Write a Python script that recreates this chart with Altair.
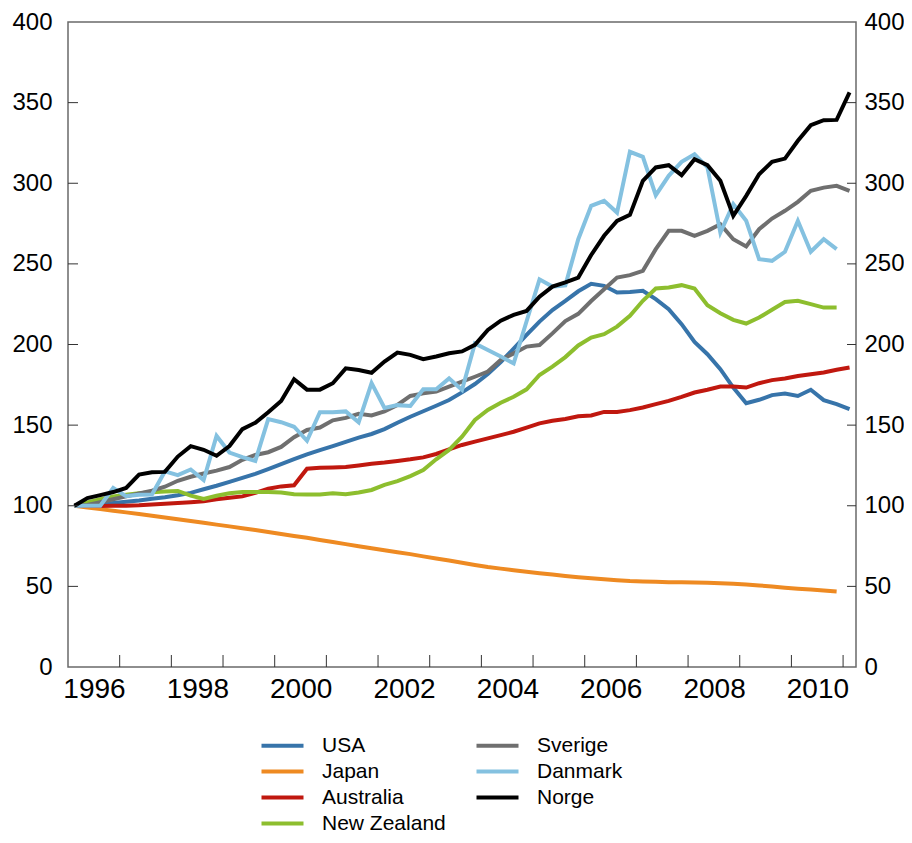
import altair as alt
import pandas as pd

# Quarterly index, 1996 Q1 = 100
usa = [100, 100.3, 101, 101.7, 102.5, 103.3, 104.3, 105.3, 106.5, 108, 110.2, 112.4, 114.8, 117.3, 119.8,
       122.7, 125.8, 128.9, 131.8, 134.5, 137, 139.6, 142.3, 144.5, 147.5, 151.5, 155.2, 158.6, 162, 165.6,
       170.3, 175.5, 181.7, 189.1, 197.4, 205.9, 214.2, 221.4, 227, 233, 237.6, 236.4, 232.2, 232.6, 233.3,
       228.1, 221.9, 212.6, 201.6, 194, 184.7, 173.3, 163.6, 165.7, 168.6, 169.6, 168.1, 171.9, 165.5, 163,
       159.9]
japan = [100, 98.9, 97.9, 96.9, 95.9, 94.9, 93.8, 92.7, 91.6, 90.5, 89.4, 88.3, 87.2, 86.1, 84.9, 83.7,
         82.5, 81.3, 80.1, 78.8, 77.5, 76.2, 74.9, 73.7, 72.4, 71.2, 70, 68.6, 67.3, 66, 64.6, 63.3, 62, 61,
         60, 59.1, 58.2, 57.3, 56.5, 55.7, 55, 54.4, 53.8, 53.3, 53, 52.8, 52.6, 52.5, 52.4, 52.2, 51.9, 51.6,
         51.2, 50.6, 49.9, 49.2, 48.6, 48, 47.4, 46.8]
australia = [100, 100, 99.9, 100, 100, 100.3, 100.8, 101.3, 101.7, 102.2, 102.8, 104, 105, 105.8, 108,
             110.5, 112, 112.7, 123, 123.5, 123.7, 124, 125, 126, 126.8, 127.8, 128.8, 130, 132.1, 135,
             137.7, 139.8, 141.8, 143.8, 145.9, 148.5, 151.1, 152.7, 153.8, 155.5, 156, 158.2, 158.2, 159.3,
             160.9, 163, 165, 167.5, 170.2, 171.9, 173.9, 173.9, 173.3, 176, 177.9, 178.9, 180.5, 181.6,
             182.6, 184.3, 185.7]
new_zealand = [100, 102, 104, 105.8, 106.8, 107.8, 108.3, 108.8, 109.2, 106.3, 104.2, 106.2, 107.8, 108.5,
               108.6, 108.6, 108.2, 107.2, 107, 107, 107.7, 107.2, 108.2, 109.8, 112.9, 115.3, 118.4, 122.2,
               128.8, 134.6, 142.8, 153.2, 159.4, 163.9, 167.6, 172.2, 181.1, 186.3, 192.2, 199.4, 204.3,
               206.4, 211.1, 217.8, 227.1, 234.7, 235.3, 236.8, 234.7, 224.4, 219.4, 215.3, 213, 216.7,
               221.5, 226.4, 227.1, 225, 222.9, 222.9]
sverige = [100, 100.5, 102.2, 104, 105.8, 107.6, 109.3, 111.8, 115.5, 118, 120, 121.8, 124, 128.5, 131.5,
           133.2, 136.5, 142.5, 147, 148.5, 153, 154.5, 157, 156, 158.5, 162.5, 168.1, 169.7, 170.8, 173.8,
           177, 180, 183.2, 190.4, 194.5, 198.7, 199.7, 206.9, 214.5, 219, 227, 234.3, 241.5, 243, 245.7,
           259.1, 270.5, 270.5, 267.4, 270.5, 274.6, 265.3, 260.8, 271.5, 278.1, 282.9, 288.5, 295.3, 297.3,
           298.4, 295.3]
danmark = [100, 100, 100, 111, 106, 106.8, 107, 121.3, 119, 122.5, 116, 143.3, 133, 130.2, 127.8, 153.7,
           151.8, 149, 140.3, 158, 158, 158.5, 151.8, 176, 160.6, 162.4, 161.9, 172.2, 172.2, 179, 171.8,
           200.7, 196.6, 192.5, 188.3, 214.4, 240.4, 235.9, 236.7, 265.3, 286, 289.1, 281.8, 319.5, 316.4,
           292.6, 304.6, 313.3, 318, 309.8, 269.4, 287, 276.7, 252.9, 251.9, 257.5, 276.7, 257.5, 265.3, 259.1]
norge = [100, 104.8, 106.6, 108.5, 111, 119.3, 120.8, 121, 130.5, 137, 134.7, 131, 137, 147.5, 151.5, 158,
         165, 178.5, 172, 172, 176, 185.2, 184.2, 182.5, 189.4, 195, 193.6, 190.9, 192.6, 194.6, 195.7,
         199.8, 209, 214.8, 218.4, 220.8, 229.7, 235.9, 238.5, 241.5, 255.5, 267.4, 276.7, 280.4, 301.5,
         309.8, 311.2, 305, 314.9, 311.2, 301.5, 279.8, 292.2, 305.6, 313.3, 315.3, 326.3, 336, 339.1,
         339.3, 356.3]

countries = ["USA", "Japan", "Australia", "New Zealand", "Sverige", "Danmark", "Norge"]
series = [usa, japan, australia, new_zealand, sverige, danmark, norge]
colors = ["#3774aa", "#ee8a22", "#c0180f", "#8dbe2e", "#6f6f6f", "#84c1e0", "#000000"]

y_ticks = list(range(0, 401, 50))
x_label_years = list(range(1996, 2011, 2))
x_tick_years = list(range(1997, 2012))

rows = []
for name, vals in zip(countries, series):
    for i, v in enumerate(vals):
        rows.append({"country": name, "t": 1996 + (i + 0.5) / 4, "value": v})
df = pd.DataFrame(rows)

FONT = "Liberation Sans"
W, H = 788, 645
yscale = alt.Scale(domain=[0, 400], nice=False, zero=True)

lines = alt.Chart(df).mark_line(strokeWidth=4).encode(
    x=alt.X("t:Q", scale=alt.Scale(domain=[1996, 2011.25], nice=False, zero=False),
            axis=alt.Axis(values=x_label_years, format="d", labelOffset=26, ticks=False, domain=False,
                          grid=False, title=None, labelFontSize=28, labelPadding=8, labelFlush=False,
                          labelOverlap=False, labelFont=FONT, labelColor="#000")),
    y=alt.Y("value:Q", scale=yscale,
            axis=alt.Axis(values=y_ticks, ticks=False, domain=False, grid=False, title=None,
                          labelFontSize=24, labelPadding=16, labelOverlap=False, labelFont=FONT,
                          labelColor="#000")),
    color=alt.Color("country:N",
                    scale=alt.Scale(domain=countries, range=colors),
                    legend=alt.Legend(title=None, orient="none", legendX=202, legendY=711, columns=2,
                                      symbolType="M-2,0H2", symbolSize=441, symbolStrokeWidth=4,
                                      labelFontSize=21, labelFont=FONT, labelOffset=27,
                                      columnPadding=22, rowPadding=3, labelLimit=300,
                                      labelColor="#000")),
)

tick_df = pd.DataFrame({"v": y_ticks[1:-1]})
left_ticks = alt.Chart(tick_df).mark_rule(color="#333", strokeWidth=1).encode(
    y=alt.Y("v:Q", scale=yscale, axis=None), x=alt.value(0), x2=alt.value(10))
right_ticks = alt.Chart(tick_df).mark_rule(color="#333", strokeWidth=1).encode(
    y=alt.Y("v:Q", scale=yscale,
            axis=alt.Axis(orient="right", values=y_ticks, ticks=False, domain=False, grid=False,
                          title=None, labelFontSize=24, labelPadding=8, labelOverlap=False,
                          labelFont=FONT, labelColor="#000")),
    x=alt.value(W - 9), x2=alt.value(W))
xt_df = pd.DataFrame({"yr": x_tick_years})
x_ticks = alt.Chart(xt_df).mark_rule(color="#333", strokeWidth=1).encode(
    x=alt.X("yr:Q"), y=alt.value(H), y2=alt.value(H - 12))

chart = alt.layer(lines, x_ticks, left_ticks, right_ticks).resolve_scale(y="independent").properties(
    width=W, height=H,
    autosize=alt.AutoSizeParams(type="none"),
    padding={"left": 60, "top": 14, "right": 48, "bottom": 168},
).configure_view(stroke="#6a6a6a", strokeWidth=1.5)

chart.save("out.html", embed_options={"renderer": "svg", "actions": False})
